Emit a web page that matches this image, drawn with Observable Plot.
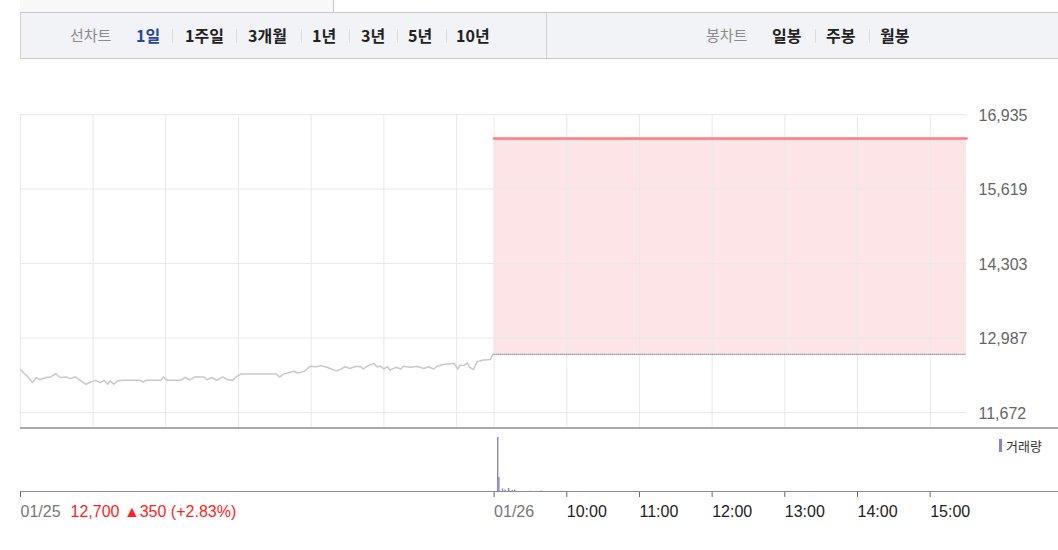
<!DOCTYPE html>
<html>
<head>
<meta charset="utf-8">
<script src="https://cdn.jsdelivr.net/npm/d3@7"></script>
<script src="https://cdn.jsdelivr.net/npm/@observablehq/plot@0.6"></script>
<style>
  html, body { margin: 0; padding: 0; background: #fff; }
  #wrap { position: relative; width: 1058px; height: 550px; overflow: hidden; background: #fff;
          font-family: "Liberation Sans", Arial, sans-serif; }
  .abs { position: absolute; }
  .hd { position: absolute; top: 12px; height: 46px; line-height: 46px; white-space: nowrap;
        font-family: "Noto Sans CJK KR", "Noto Sans", sans-serif; }
  .lbl { font-size: 15px; color: #8a8a8a; }
  .item { font-size: 16px; font-weight: bold; color: #222; }
  .sel { color: #27479c; }
  .sep { position: absolute; top: 29px; width: 1px; height: 14px; background: #dcdcdc; }
  svg { position: absolute; left: 0; overflow: visible; }
</style>
</head>
<body>
<div id="wrap">
  <div class="abs" style="left:20px;top:0;width:313px;height:12px;background:#f8f8f8;border-right:1px solid #c8c8c8;"></div>
  <div class="abs" style="left:20px;top:12px;width:1038px;height:45px;background:#f2f3f7;border-top:1px solid #c9c9c9;border-bottom:1px solid #c9c9c9;border-left:1px solid #d0d0d0;"></div>
  <div class="abs" style="left:546px;top:13px;width:1px;height:45px;background:#d0d0d0;"></div>
  <div id="header"></div>
  <div id="price"></div>
  <div id="volume"></div>
  <div class="abs" style="left:20px;top:427px;width:1038px;height:2px;background:#a9a9a9;"></div>
  <div class="abs" style="left:20px;top:491px;width:1038px;height:1px;background:#8c8c8c;"></div>
  <div class="abs" style="left:999px;top:439px;width:3px;height:13px;background:#8e7fd3;"></div>
  <div class="abs" style="left:1006px;top:436px;font-size:13px;line-height:19px;color:#333;font-family:'Noto Sans CJK KR',sans-serif;">거래량</div>
</div>
<script>
// ---------- data ----------
const lineChartTabs = ["1일", "1주일", "3개월", "1년", "3년", "5년", "10년"];
const candleTabs = ["일봉", "주봉", "월봉"];

const prevDate = "01/25";
const todayDate = "01/26";
const prevClose = 12700;
const prevChange = 350;
const prevChangePct = "+2.83%";

// 01/25 intraday (time, price)
const prevTimes = ["09:00","09:03","09:05","09:10","09:13","09:16","09:21","09:25","09:29","09:32",
  "09:34","09:38","09:41","09:45","09:50","09:54","09:58","10:02","10:06","10:09",
  "10:12","10:14","10:17","10:20","10:24","10:39","10:41","10:44","10:56","10:58",
  "11:01","11:12","11:16","11:20","11:24","11:31","11:34","11:38","11:42","11:47",
  "11:51","11:55","11:58","12:02","12:31","12:34","12:37","12:46","12:48","12:51",
  "12:55","12:59","13:04","13:08","13:13","13:19","13:21","13:24","13:28","13:32",
  "13:37","13:41","13:43","13:46","13:52","13:54","13:57","14:00","14:03","14:05",
  "14:10","14:14","14:16","14:22","14:27","14:33","14:37","14:41","14:44","14:49",
  "14:58","15:01","15:03","15:06","15:09","15:11","15:14","15:17","15:22","15:28","15:30"];
const prevPrices = [12430,12360,12330,12200,12290,12250,12290,12300,12360,12300,
  12290,12300,12270,12300,12230,12170,12210,12240,12200,12240,
  12170,12230,12170,12230,12240,12240,12210,12240,12240,12300,
  12240,12240,12290,12250,12300,12300,12250,12290,12240,12300,
  12250,12240,12300,12350,12350,12300,12350,12400,12370,12380,
  12410,12490,12480,12500,12470,12420,12410,12430,12480,12450,
  12490,12480,12440,12490,12540,12480,12490,12440,12480,12420,
  12470,12440,12490,12470,12490,12450,12480,12440,12490,12520,
  12540,12440,12510,12500,12550,12470,12430,12570,12600,12610,12700];

// 01/26 (upper limit all session)
const todayTimes = ["09:00", "15:30"];
const todayPrices = [16510, 16510];

// volume
const volPrevTimes = ["09:51", "12:57", "14:51", "15:18"];
const volPrevValues = [6000, 5000, 6000, 8000];
const volTodayTimes = ["09:03","09:04","09:07","09:09","09:12","09:15","09:17","09:30","09:39"];
const volTodayValues = [550000, 150000, 35000, 25000, 40000, 20000, 25000, 12000, 15000];

// axes
const yTicks = [11672, 12987, 14303, 15619, 16935];
const hourLabels = ["09:00","10:00","11:00","12:00","13:00","14:00","15:00"];
const bottomHourLabels = ["10:00","11:00","12:00","13:00","14:00","15:00"];
const sessionOpen = "09:00", sessionClose = "15:30";

// ---------- helpers ----------
const mins = s => { const [h, m] = s.split(":").map(Number); return h * 60 + m; };
const sessionLen = mins(sessionClose) - mins(sessionOpen) + 1; // minutes incl. close print
const idx = (s, day) => mins(s) - mins(sessionOpen) + day * sessionLen;
const xMax = idx(sessionClose, 1);

const prev = prevTimes.map((t, i) => ({t: idx(t, 0), p: prevPrices[i]}));
const today = todayTimes.map((t, i) => ({t: idx(t, 1), p: todayPrices[i]}));
const vol = [
  ...volPrevTimes.map((t, i) => ({t: idx(t, 0), v: volPrevValues[i]})),
  ...volTodayTimes.map((t, i) => ({t: idx(t, 1), v: volTodayValues[i]}))
];
const gridTimes = [...hourLabels.map(h => idx(h, 0)), ...hourLabels.map(h => idx(h, 1))];
const hourTicks = bottomHourLabels.map(h => idx(h, 1));

// ---------- header ----------
const header = document.getElementById("header");
function addSpan(text, cls, left) {
  const s = document.createElement("span");
  s.className = "hd " + cls; s.textContent = text; s.style.left = left + "px";
  header.appendChild(s);
}
function addSep(left) {
  const d = document.createElement("div"); d.className = "sep"; d.style.left = left + "px";
  header.appendChild(d);
}
addSpan("선차트", "lbl", 70);
const lineLefts = [136, 185, 248, 312, 361, 408, 456];
const lineSeps = [172, 236, 301, 349, 397, 446];
lineChartTabs.forEach((t, i) => addSpan(t, i === 0 ? "item sel" : "item", lineLefts[i]));
lineSeps.forEach(addSep);
addSpan("봉차트", "lbl", 706);
const candleLefts = [772, 826, 880];
candleTabs.forEach((t, i) => addSpan(t, "item", candleLefts[i]));
[815, 869].forEach(addSep);

// ---------- price chart ----------
const fmt = d3.format(",");
const priceChart = Plot.plot({
  width: 1058, height: 330,
  marginLeft: 20, marginRight: 92, marginTop: 14, marginBottom: 2,
  style: {fontFamily: "'Liberation Sans', Arial, sans-serif", fontSize: "16px", background: "transparent"},
  x: {domain: [0, xMax], axis: null},
  y: {domain: [yTicks[0], yTicks[yTicks.length - 1]], insetBottom: 16, axis: null},
  marks: [
    Plot.areaY(today, {x: "t", y1: prevClose, y2: "p", fill: "#fde4e7"}),
    Plot.gridY(yTicks, {stroke: "#e9e9e9", strokeOpacity: 1}),
    Plot.gridX(gridTimes, {stroke: "#e9e9e9", strokeOpacity: 1}),
    Plot.ruleY([prevClose], {x1: idx(sessionOpen, 1), x2: xMax, stroke: "#333", strokeDasharray: "1,1", strokeWidth: 1}),
    Plot.line(today, {x: "t", y: "p", stroke: "#ff7b7b", strokeWidth: 2.5}),
    Plot.line(prev, {x: "t", y: "p", stroke: "#c9c9c9", strokeWidth: 1.5}),
    Plot.axisY(yTicks, {anchor: "right", label: null, tickSize: 0, tickPadding: 12, dy: 1, tickFormat: fmt, fill: "#666", fontSize: 16})
  ]
});
priceChart.style.top = "100px";
document.getElementById("price").appendChild(priceChart);

// ---------- volume chart ----------
const volChart = Plot.plot({
  width: 1058, height: 100,
  marginLeft: 20, marginRight: 92, marginTop: 4, marginBottom: 36,
  style: {fontFamily: "'Liberation Sans', Arial, sans-serif", fontSize: "16px", background: "transparent"},
  x: {domain: [0, xMax], axis: null},
  y: {domain: [0, 600000], axis: null},
  marks: [
    Plot.ruleX(vol, {x: "t", y: "v", stroke: "#8e7fd3", strokeWidth: 1.4}),
    Plot.axisX([idx(sessionOpen, 0), idx(sessionOpen, 1)], {
      anchor: "bottom", label: null, tickSize: 5, tickPadding: 8, textAnchor: "start",
      tickFormat: d => d === 0 ? prevDate : todayDate, fill: "#777", stroke: "#666", fontSize: 16
    }),
    Plot.axisX(hourTicks, {
      anchor: "bottom", label: null, tickSize: 5, tickPadding: 8, textAnchor: "start",
      tickFormat: d => bottomHourLabels[hourTicks.indexOf(d)],
      fill: "#222", stroke: "#666", fontSize: 16
    }),
    Plot.text([idx(sessionOpen, 0)], {
      x: d => d, frameAnchor: "bottom", lineAnchor: "top", dy: 13, dx: 50, textAnchor: "start",
      text: () => `${fmt(prevClose)} ▲${fmt(prevChange)} (${prevChangePct})`, fill: "#f22", fontSize: 16
    })
  ]
});
volChart.style.top = "428px";
document.getElementById("volume").appendChild(volChart);
</script>
</body>
</html>
